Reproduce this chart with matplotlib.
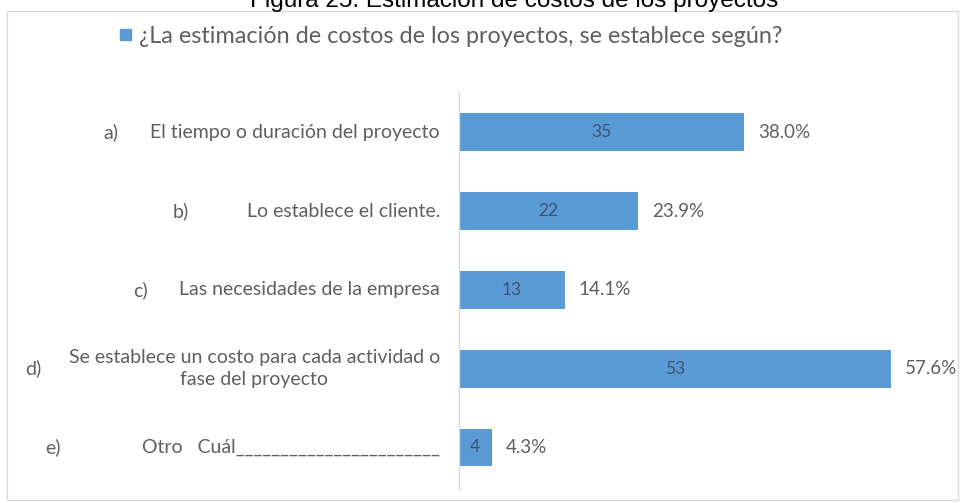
import matplotlib
matplotlib.use("Agg")
import matplotlib.pyplot as plt
from matplotlib.patches import Rectangle
from matplotlib.transforms import blended_transform_factory

# Survey responses
letters = ["a)", "b)", "c)", "d)", "e)"]
options = [
    "El tiempo o duración del proyecto",
    "Lo establece el cliente.",
    "Las necesidades de la empresa",
    "Se establece un costo para cada actividad o\nfase del proyecto",
    "Otro   Cuál_______________________",
]
counts = [35, 22, 13, 53, 4]
percents = [38.0, 23.9, 14.1, 57.6, 4.3]
series_name = "¿La estimación de costos de los proyectos, se establece según?"
title = "Figura 25. Estimación de costos de los proyectos"

BAR = "#5b9bd5"
TXT = "#5f5f5f"
INBAR = "#3d5273"
FONT = ["Lato", "DejaVu Sans"]

W, H = 960, 503
fig = plt.figure(figsize=(W / 100, H / 100), dpi=100)

def fx(px):
    return px / W

def fy(py):
    return 1 - py / H

# Chart area frame
fig.patches.append(Rectangle((fx(7), fy(500)), fx(958 - 7), (500 - 11) / H,
                             transform=fig.transFigure, fill=False,
                             edgecolor="#d9d9d9", linewidth=1.0))

# Caption, partly cut off at the top edge
fig.text(fx(514), fy(7), title, ha="center", va="baseline",
         fontsize=17.5, family=["Liberation Sans", "DejaVu Sans"], color="black")

ax = fig.add_axes([fx(459), fy(490), fx(950 - 459), (490 - 92) / H])
y = list(range(len(counts)))
ax.barh(y, counts, height=0.48, color=BAR)
ax.set_xlim(0, 60.3)
ax.set_ylim(4.54, -0.51)

for s in ["top", "right", "bottom"]:
    ax.spines[s].set_visible(False)
ax.spines["left"].set_color("#d9d9d9")
ax.spines["left"].set_linewidth(1.0)
ax.set_xticks([])
ax.set_yticks([])

for yi, c, p in zip(y, counts, percents):
    ax.text(c / 2, yi, f"{c}", ha="center", va="center",
            fontsize=12.5, color=INBAR, family=FONT)
    ax.annotate(f"{p:.1f}%", (c, yi), xytext=(10, 0), textcoords="offset points",
                ha="left", va="center", fontsize=13.5, color=TXT, family=FONT)

# Category labels: letter on the left, description right-aligned to the axis
letter_x = [103, 173, 133, 25, 45]
label_tf = blended_transform_factory(fig.transFigure, ax.transData)
for yi, lt, opt, lx in zip(y, letters, options, letter_x):
    ax.annotate(opt, (0, yi), xytext=(-13.7, 0), textcoords="offset points",
                ha="right", va="center", multialignment="center",
                fontsize=14, color=TXT, family=FONT, linespacing=1.35)
    ax.text(fx(lx), yi, lt, transform=label_tf,
            ha="left", va="center", fontsize=14, color=TXT, family=FONT)

# Legend entry
fig.patches.append(Rectangle((fx(120), fy(40)), fx(11), 11 / H,
                             transform=fig.transFigure, color=BAR))
fig.text(fx(139), fy(37), series_name, ha="left", va="center",
         fontsize=16.8, color=TXT, family=FONT)

fig.savefig("out.png", dpi=100, facecolor="white")
